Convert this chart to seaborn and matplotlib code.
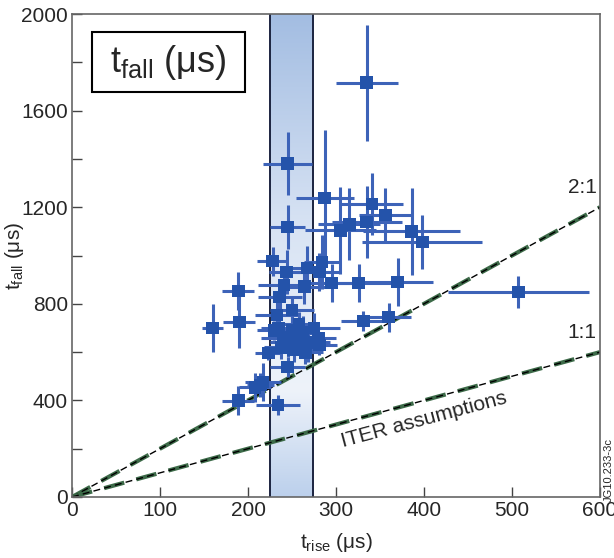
import numpy as np
import pandas as pd
import matplotlib
matplotlib.use("Agg")
import matplotlib.pyplot as plt
from matplotlib.colors import LinearSegmentedColormap
from matplotlib.patches import Rectangle
import seaborn as sns

# ---- data ----
t_rise = [335, 245, 287, 341, 356, 335, 315, 305, 386, 398,
          245, 228, 244, 267, 284, 281, 295, 326, 370, 189,
          160, 190, 241, 264, 236, 250, 233, 331, 360, 507,
          281, 245, 208, 217, 189, 234, 214,
          235, 250, 262, 240, 255, 268, 238, 252, 265, 245,
          275, 230, 258, 223, 280]
t_fall = [1715, 1380, 1238, 1213, 1168, 1139, 1130, 1105, 1101, 1056,
          1118, 977, 932, 948, 973, 932, 886, 886, 890, 853,
          700, 725, 878, 870, 828, 774, 754, 729, 745, 849,
          629, 538, 455, 476, 398, 381, 464,
          700, 690, 680, 660, 650, 640, 620, 610, 600, 640,
          700, 690, 715, 596, 658]
xerr = [35, 28, 33, 35, 30, 40, 35, 40, 55, 68,
        20, 18, 20, 20, 20, 25, 35, 40, 40, 18,
        12, 18, 30, 28, 25, 25, 25, 25, 25, 80,
        20, 20, 18, 20, 18, 25, 15,
        20, 25, 20, 25, 20, 25, 20, 25, 20, 20,
        30, 20, 20, 15, 20]
yerr = [240, 130, 280, 130, 110, 150, 150, 180, 180, 110,
        90, 60, 90, 90, 110, 80, 80, 80, 100, 80,
        100, 110, 60, 70, 60, 60, 60, 40, 60, 65,
        40, 40, 60, 80, 60, 40, 50,
        60, 60, 70, 60, 60, 80, 50, 50, 50, 60,
        60, 40, 50, 30, 60]

band = [225, 274]          # shaded t_rise band
ratio_slopes = [2, 1]      # 2:1 and 1:1 reference lines
ratio_labels = ["2:1", "1:1"]
x_line = [0, 600]

df = pd.DataFrame({"t_rise": t_rise, "t_fall": t_fall, "xerr": xerr, "yerr": yerr})

sns.set_theme(style="white")
plt.rcParams["font.family"] = ["Liberation Sans", "DejaVu Sans"]
plt.rcParams["mathtext.fontset"] = "custom"
plt.rcParams["mathtext.rm"] = "Liberation Sans"
plt.rcParams["mathtext.it"] = "Liberation Sans"
plt.rcParams["mathtext.default"] = "regular"

fig = plt.figure(figsize=(6.14, 5.58), dpi=100)
ax = fig.add_axes([72/614, 61/558, 528/614, 483/558])

# gradient band
cmap = LinearSegmentedColormap.from_list(
    "band", [(0.0, "#bcd0ec"), (0.22, "#eef3fa"), (0.55, "#d9e4f4"), (1.0, "#a3bde2")])
grad = np.linspace(0, 1, 256).reshape(-1, 1)
ax.imshow(grad, extent=[band[0], band[1], 0, 2000], origin="lower",
          cmap=cmap, aspect="auto", zorder=0, interpolation="bicubic")
for b in band:
    ax.axvline(b, color="#1c2440", lw=1.4, zorder=1)

# ratio lines
for s in ratio_slopes:
    yl = [v * s for v in x_line]
    ax.plot(x_line, yl, color="#3c6a48", lw=3.0, dashes=(5, 3), zorder=2)
    ax.plot(x_line, yl, color="black", lw=1.0, dashes=(5, 3), zorder=2)

# error bars + markers
ax.errorbar(df["t_rise"], df["t_fall"], xerr=df["xerr"], yerr=df["yerr"],
            fmt="none", ecolor="#3d63b8", elinewidth=2.2, capsize=0, zorder=3)
sns.scatterplot(data=df, x="t_rise", y="t_fall", marker="s", s=85,
                color="#2453aa", edgecolor="none", ax=ax, zorder=4)

ax.set_xlim(0, 600)
ax.set_ylim(0, 2000)
ax.set_xticks(range(0, 601, 100))
ax.set_yticks(range(0, 2001, 400))
ax.set_yticks(range(200, 2001, 400), minor=True)
ax.tick_params(axis="both", which="both", direction="in", length=7, width=1,
               color="#444", labelsize=15, pad=3, bottom=True, left=True)
ax.tick_params(axis="y", which="minor", length=7)
for sp in ax.spines.values():
    sp.set_color("#666")
    sp.set_linewidth(1.2)

ax.set_xlabel(r"$t_{rise}$ (μs)", fontsize=15, labelpad=8)
ax.set_ylabel(r"$t_{fall}$ (μs)", fontsize=15)
ax.yaxis.set_label_coords(-0.088, 0.5)

# title box
ax.add_patch(Rectangle((0.038, 0.838), 0.29, 0.125, transform=ax.transAxes,
                       facecolor="white", edgecolor="black", lw=1.5, zorder=5))
ax.text(0.183, 0.900, r"$t_{fall}$ (μs)", transform=ax.transAxes, fontsize=26,
        ha="center", va="center", zorder=6)

# line labels
ax.text(596, 1242, ratio_labels[0], fontsize=15, ha="right", va="bottom", zorder=6)
ax.text(596, 640, ratio_labels[1], fontsize=15, ha="right", va="bottom", zorder=6)
ax.text(400, 322, "ITER assumptions", fontsize=15, ha="center", va="center",
        rotation=15.0, rotation_mode="anchor", zorder=6)

fig.text(0.991, 0.158, "JG10.233-3c", fontsize=8, rotation=90, ha="center", va="center")

fig.savefig("out.png", dpi=100)
